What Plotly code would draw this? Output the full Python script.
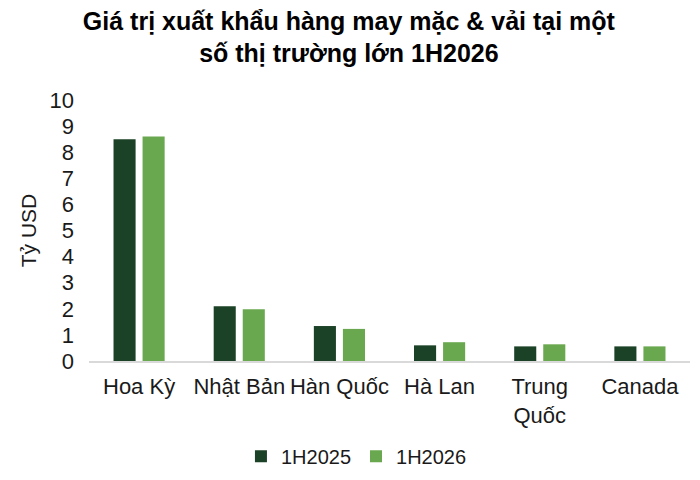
import plotly.graph_objects as go

# Data (ty USD)
markets = ['Hoa Kỳ', 'Nhật Bản', 'Hàn Quốc', 'Hà Lan', 'Trung<br>Quốc', 'Canada']
val_2025 = [8.5, 2.1, 1.34, 0.6, 0.56, 0.56]
val_2026 = [8.6, 1.98, 1.23, 0.72, 0.64, 0.56]
y_ticks = [0, 1, 2, 3, 4, 5, 6, 7, 8, 9, 10]

FONT = 'Liberation Sans, Arial, sans-serif'

fig = go.Figure()
fig.add_trace(go.Bar(x=markets, y=val_2025, name='1H2025',
                     marker=dict(color='#1b4226', line=dict(width=0))))
fig.add_trace(go.Bar(x=markets, y=val_2026, name='1H2026',
                     marker=dict(color='#6aa84f', line=dict(width=0))))

# page body adds an 8px offset, so margins are shifted to compensate
fig.update_layout(
    width=700, height=480,
    margin=dict(l=81, r=18, t=92, b=125),
    paper_bgcolor='white', plot_bgcolor='white',
    font=dict(family=FONT, size=20, color='#1a1a1a'),
    title=dict(text='<b>Giá trị xuất khẩu hàng may mặc & vải tại một<br>số thị trường lớn 1H2026</b>',
               x=0.487, xanchor='center', y=0.955, yanchor='top',
               font=dict(family=FONT, size=25, color='#000000')),
    barmode='group', bargap=0.42, bargroupgap=0.24,
    legend=dict(orientation='h', x=0.445, xanchor='center', y=-0.29, yanchor='top',
                font=dict(size=20), itemwidth=30, traceorder='normal'),
    showlegend=True,
)
fig.update_xaxes(showline=True, linecolor='#d9d9d9', linewidth=1.5, automargin=False,
                 ticks='', showgrid=False, tickfont=dict(size=22), ticklabelstandoff=5)
fig.update_yaxes(range=[0, 10], tickvals=y_ticks, showgrid=False, zeroline=False,
                 showline=False, ticks='', tickfont=dict(size=22), automargin=False,
                 ticklabelstandoff=14,
                 title=dict(text='Tỷ USD', font=dict(size=21), standoff=7))

fig.write_html('out.html')
